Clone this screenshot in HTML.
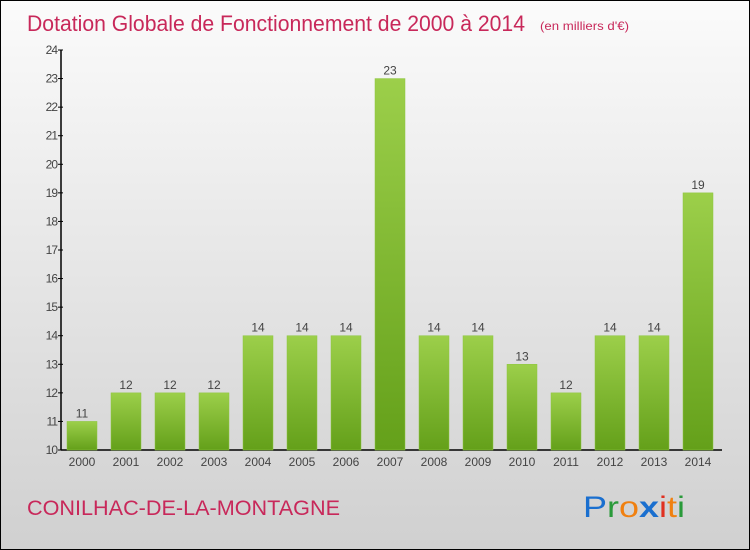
<!DOCTYPE html>
<html><head><meta charset="utf-8"><style>
body{margin:0}
svg{display:block;font-family:"Liberation Sans",sans-serif}
</style></head><body>
<svg width="750" height="550" viewBox="0 0 750 550">
<defs>
<linearGradient id="bg" x1="0" y1="0" x2="0" y2="1"><stop offset="0" stop-color="#fbfbfb"/><stop offset="1" stop-color="#d0d0d0"/></linearGradient>
<linearGradient id="bar" x1="0" y1="0" x2="0" y2="1"><stop offset="0" stop-color="#9ccf4a"/><stop offset="1" stop-color="#64a01a"/></linearGradient>
</defs>
<rect x="0.5" y="0.5" width="749" height="549" fill="url(#bg)" stroke="#000"/>
<text x="27" y="31" font-size="22" fill="#c8285a" textLength="498" lengthAdjust="spacingAndGlyphs">Dotation Globale de Fonctionnement de 2000 à 2014</text>
<text x="540" y="30" font-size="12" fill="#c8285a" textLength="89" lengthAdjust="spacingAndGlyphs">(en milliers d'€)</text>
<g id="axes"></g>
<g id="bars"></g>
<text x="27" y="515" font-size="21" fill="#c8285a" textLength="313" lengthAdjust="spacingAndGlyphs">CONILHAC-DE-LA-MONTAGNE</text>
<g font-size="30">
<text x="583" y="517" fill="#1a6fcf" textLength="102" lengthAdjust="spacingAndGlyphs">P<tspan fill="#2a9a3a">r</tspan><tspan fill="#f08010">o</tspan><tspan fill="#1a6fcf" font-weight="bold">x</tspan><tspan fill="#e03020">i</tspan><tspan fill="#f08010">t</tspan><tspan fill="#2a9a3a">i</tspan></text>
</g>
</svg>
<script>
const years=["2000","2001","2002","2003","2004","2005","2006","2007","2008","2009","2010","2011","2012","2013","2014"];
const values=[11,12,12,12,14,14,14,23,14,14,13,12,14,14,19];
const yTicks=[10,11,12,13,14,15,16,17,18,19,20,21,22,23,24];
const NS="http://www.w3.org/2000/svg";
const y0=450,y1=50,vmin=10,vmax=24,x0=82,step=44,bw=30;
const ys=v=>y0-(v-vmin)/(vmax-vmin)*(y0-y1);
const xs=i=>x0+i*step;
function mk(t,a,p){const e=document.createElementNS(NS,t);for(const k in a)e.setAttribute(k,a[k]);p.appendChild(e);return e;}
const ax=document.getElementById('axes'),bg=document.getElementById('bars');
let l=mk('line',{x1:61,y1:y1,x2:61,y2:y0,stroke:'#000','stroke-width':1.5},ax);


l=mk('line',{x1:61,y1:y0,x2:722,y2:y0,stroke:'#000','stroke-width':1.5},ax);


yTicks.forEach(v=>{
  mk('line',{x1:58,y1:ys(v),x2:63,y2:ys(v),stroke:'#000'},ax);
  const t=mk('text',{x:57,y:ys(v)+4,'font-size':12,fill:'#444','text-anchor':'end','letter-spacing':'-1'},ax);
  t.textContent=v;
  
  
});
years.forEach((yr,i)=>{
  const v=values[i];
  const r=mk('rect',{x:xs(i)-bw/2,y:ys(v),width:bw,height:y0-ys(v),fill:'url(#bar)',stroke:'#8cc63f','stroke-width':0.5},bg);
  
  
  const t=mk('text',{x:xs(i),y:ys(v)-4,'font-size':12,fill:'#444','text-anchor':'middle'},bg);
  t.textContent=v;
  
  
  const xl=mk('text',{x:xs(i),y:466,'font-size':12,fill:'#444','text-anchor':'middle'},bg);
  xl.textContent=yr;
  
  
});
</script>
</body></html>
